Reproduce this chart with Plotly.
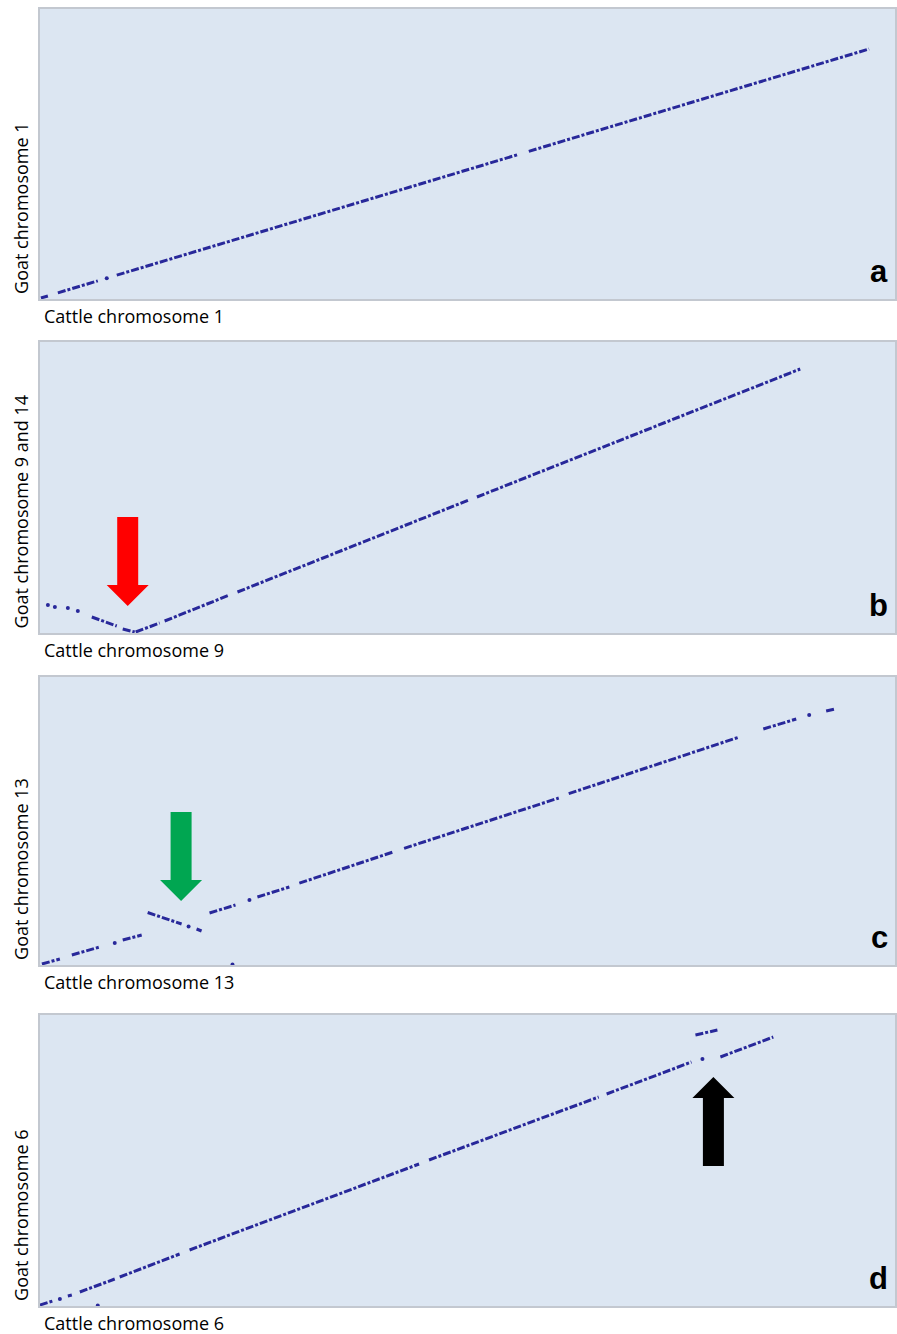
import plotly.graph_objects as go

# ---------------- data (positions in Mb) ----------------
# Panel a: cattle chr 1 vs goat chr 1 (alignment blocks)
a_cattle_start = [0.2, 3.6, 15.4, 98.0]
a_cattle_end = [1.6, 11.6, 96.0, 166.2]
a_goat_start = [0.6, 3.7, 14.3, 88.6]
a_goat_end = [1.8, 10.9, 86.8, 150.0]
a_dot_cattle = [13.4]
a_dot_goat = [12.5]

# Panel b: cattle chr 9 vs goat chr 9 and 14
b_cattle_start = [10.4, 16.6, 19.2, 25.0, 39.6, 87.6]
b_cattle_end = [15.4, 19.0, 24.0, 38.0, 86.0, 152.4]
b_goat_start = [9.6, 2.4, 0.6, 7.2, 24.6, 81.6]
b_goat_end = [4.2, 0.6, 6.0, 22.8, 79.8, 158.4]
b_dot_cattle = [1.6, 3.0, 5.6, 7.6]
b_dot_goat = [16.8, 15.6, 15.0, 13.2]

# Panel c: cattle chr 13 vs goat chr 13
c_cattle_start = [0.4, 6.4, 16.6, 21.6, 31.4, 34.0, 43.6, 52.0, 73.0, 106.0, 145.0, 157.6]
c_cattle_end = [4.0, 12.0, 20.4, 28.4, 32.4, 39.2, 50.0, 71.0, 104.0, 140.0, 151.6, 159.4]
c_goat_start = [0.6, 6.0, 15.0, 31.5, 21.6, 31.2, 40.8, 49.1, 70.0, 102.8, 141.6, 152.4]
c_goat_end = [3.6, 10.8, 18.0, 24.6, 20.4, 36.0, 46.8, 68.0, 100.2, 136.6, 147.6, 153.6]
c_dot_cattle = [15.0, 29.8, 42.0, 154.2, 38.6]
c_dot_goat = [13.2, 23.1, 39.0, 150.0, 0.3]

# Panel d: cattle chr 6 vs goat chr 6
d_cattle_start = [0.0, 5.6, 8.0, 16.0, 30.0, 78.0, 113.6, 136.4, 131.4]
d_cattle_end = [2.6, 6.4, 15.0, 28.0, 76.0, 112.0, 130.6, 147.0, 135.8]
d_goat_start = [0.6, 6.0, 8.4, 17.4, 33.6, 87.6, 127.2, 149.4, 162.6]
d_goat_end = [3.0, 6.6, 16.2, 31.2, 85.2, 125.4, 146.4, 161.4, 165.6]
d_dot_cattle = [4.0, 132.8, 11.6]
d_dot_goat = [4.2, 148.2, 0.3]

x_labels = ["Cattle chromosome 1", "Cattle chromosome 9", "Cattle chromosome 13", "Cattle chromosome 6"]
y_labels = ["Goat chromosome 1", "Goat chromosome 9 and 14", "Goat chromosome 13", "Goat chromosome 6"]
panel_letters = ["a", "b", "c", "d"]
cattle_max = [171.4, 171.4, 171.4, 171.4]
goat_max = [174.0, 174.6, 172.8, 174.6]

# arrows: (panel index, cattle Mb, goat Mb of the tip, direction, colour)
arrow_panel = [1, 2, 3]
arrow_cattle = [17.6, 28.3, 135.0]
arrow_goat = [16.2, 38.4, 137.4]
arrow_dir = ["down", "down", "up"]
arrow_color = ["#ff0000", "#00a651", "#000000"]

# ---------------- styling ----------------
W, H = 897, 1334
BG = "#dce6f2"
DOT = "#28289a"
BORDER = "#c3c8d0"
FONT = "Open Sans"

panels_px = [(9, 299), (342, 633), (677, 965), (1015, 1306)]
x_dom = [40 / W, 1.0]

blocks = [
    (a_cattle_start, a_cattle_end, a_goat_start, a_goat_end, a_dot_cattle, a_dot_goat),
    (b_cattle_start, b_cattle_end, b_goat_start, b_goat_end, b_dot_cattle, b_dot_goat),
    (c_cattle_start, c_cattle_end, c_goat_start, c_goat_end, c_dot_cattle, c_dot_goat),
    (d_cattle_start, d_cattle_end, d_goat_start, d_goat_end, d_dot_cattle, d_dot_goat),
]

fig = go.Figure()
layout = dict(
    width=W, height=H, margin=dict(l=0, r=0, t=0, b=0),
    paper_bgcolor="white", plot_bgcolor=BG, showlegend=False,
)
annotations = []
shapes = []

for i, (xs0, xs1, ys0, ys1, dx, dy) in enumerate(blocks):
    n = "" if i == 0 else str(i + 1)
    xa, ya = "x" + n, "y" + n
    lx, ly = [], []
    for a0, a1, b0, b1 in zip(xs0, xs1, ys0, ys1):
        lx += [a0, a1, None]
        ly += [b0, b1, None]
    fig.add_trace(go.Scatter(x=lx, y=ly, mode="lines", xaxis=xa, yaxis=ya,
                             line=dict(color=DOT, width=3, dash="8px,2px,3px,2px"),
                             hoverinfo="skip"))
    if dx:
        fig.add_trace(go.Scatter(x=dx, y=dy, mode="markers", xaxis=xa, yaxis=ya,
                                 marker=dict(color=DOT, size=4), hoverinfo="skip"))
    top, bot = panels_px[i]
    common = dict(showgrid=False, zeroline=False, showticklabels=False, ticks="",
                  showline=True, mirror=True, linecolor=BORDER, linewidth=1.5,
                  fixedrange=True)
    layout["xaxis" + n] = dict(domain=x_dom, range=[0, cattle_max[i]],
                               anchor=ya, **common)
    layout["yaxis" + n] = dict(domain=[1 - bot / H, 1 - top / H], range=[0, goat_max[i]],
                               anchor=xa, **common)
    # x label
    annotations.append(dict(text=x_labels[i], xref=xa + " domain", yref=ya + " domain",
                            x=0, y=0, xanchor="left", yanchor="top", xshift=2, yshift=-3,
                            showarrow=False, font=dict(family=FONT, size=18, color="black")))
    # y label (rotated)
    annotations.append(dict(text=y_labels[i], xref="paper", yref=ya + " domain",
                            x=21 / W, y=0, xanchor="center", yanchor="bottom", yshift=3,
                            textangle=-90, showarrow=False,
                            font=dict(family=FONT, size=18, color="black")))
    # panel letter
    annotations.append(dict(text="<b>" + panel_letters[i] + "</b>", xref=xa + " domain",
                            yref=ya + " domain", x=1, y=0, xanchor="right", yanchor="bottom",
                            xshift=-5, yshift=8, showarrow=False,
                            font=dict(family="Liberation Sans, Arial", size=31, color="black")))

# arrows as pixel-sized path shapes anchored at the tip in data coordinates
HEAD_H, HEAD_HW, SHAFT_HW, LENGTH = 21, 21, 10.5, 89
for p, ax_, ay_, d, col in zip(arrow_panel, arrow_cattle, arrow_goat, arrow_dir, arrow_color):
    n = "" if p == 0 else str(p + 1)
    s = 1 if d == "down" else -1  # down arrow: body above tip (positive pixels up)
    pts = [(0, 0), (-HEAD_HW, s * HEAD_H), (-SHAFT_HW, s * HEAD_H), (-SHAFT_HW, s * LENGTH),
           (SHAFT_HW, s * LENGTH), (SHAFT_HW, s * HEAD_H), (HEAD_HW, s * HEAD_H)]
    path = "M " + " L ".join(f"{px},{py}" for px, py in pts) + " Z"
    shapes.append(dict(type="path", xref="x" + n, yref="y" + n,
                       xsizemode="pixel", ysizemode="pixel",
                       xanchor=ax_, yanchor=ay_, path=path,
                       fillcolor=col, line=dict(width=0)))

layout["annotations"] = annotations
layout["shapes"] = shapes
fig.update_layout(**layout)
fig.write_html("out.html", config={"displayModeBar": False},
               post_script="document.body.style.margin='0px';document.body.style.overflow='hidden';")
